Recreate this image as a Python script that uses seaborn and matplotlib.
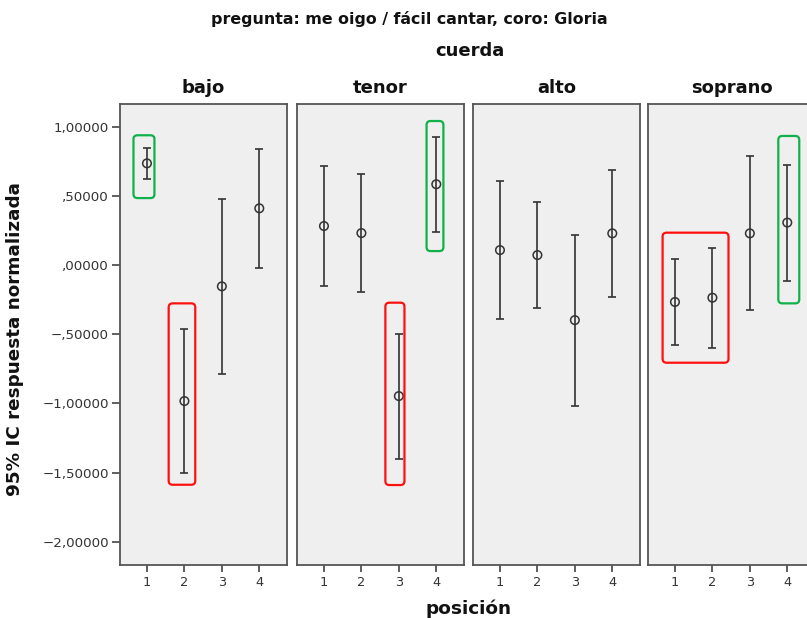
import matplotlib
matplotlib.use("Agg")
import matplotlib.pyplot as plt
import numpy as np
import pandas as pd
import seaborn as sns
from matplotlib.patches import FancyBboxPatch
from matplotlib.ticker import FuncFormatter, FixedLocator

# ---------------- data ----------------
cuerdas = ["bajo", "tenor", "alto", "soprano"]
posiciones = [1, 2, 3, 4]

media_bajo = [0.735, -0.983, -0.154, 0.410]
inf_bajo = [0.620, -1.506, -0.785, -0.019]
sup_bajo = [0.849, -0.460, 0.480, 0.837]

media_tenor = [0.282, 0.231, -0.947, 0.584]
inf_tenor = [-0.152, -0.195, -1.400, 0.241]
sup_tenor = [0.716, 0.661, -0.496, 0.926]

media_alto = [0.108, 0.072, -0.398, 0.229]
inf_alto = [-0.388, -0.313, -1.020, -0.231]
sup_alto = [0.610, 0.453, 0.217, 0.690]

media_soprano = [-0.267, -0.236, 0.229, 0.307]
inf_soprano = [-0.581, -0.600, -0.328, -0.113]
sup_soprano = [0.041, 0.126, 0.786, 0.726]

y_ticks = [-2.0, -1.5, -1.0, -0.5, 0.0, 0.5, 1.0]

# highlight annotations: (cuerda, x0, x1, y0, y1, color)
resaltados = [
    ("bajo", 0.64, 1.20, 0.484, 0.938, "#12b04a"),
    ("bajo", 1.58, 2.29, -1.588, -0.277, "#ff1010"),
    ("tenor", 3.74, 4.19, 0.101, 1.041, "#12b04a"),
    ("tenor", 2.64, 3.15, -1.590, -0.272, "#ff1010"),
    ("soprano", 0.67, 2.43, -0.706, 0.234, "#ff1010"),
    ("soprano", 3.76, 4.32, -0.277, 0.933, "#12b04a"),
]

series = {
    "bajo": (media_bajo, inf_bajo, sup_bajo),
    "tenor": (media_tenor, inf_tenor, sup_tenor),
    "alto": (media_alto, inf_alto, sup_alto),
    "soprano": (media_soprano, inf_soprano, sup_soprano),
}
rows = []
for c in cuerdas:
    m, lo, hi = series[c]
    for p, a, b, d in zip(posiciones, m, lo, hi):
        rows.append({"cuerda": c, "posición": p, "media": a, "inf": b, "sup": d})
df = pd.DataFrame(rows)

# ---------------- style ----------------
sns.set_style("white")
plt.rcParams["font.family"] = ["DejaVu Sans"]

W, H = 807, 618
fig = plt.figure(figsize=(W / 100, H / 100), dpi=100)

panel_left = [120, 297, 473, 648]
panel_w = 167
top_px, bot_px = 104, 565

def fx(x):
    return x / W

def fy(y):
    return 1 - y / H

def fmt(v, pos=None):
    s = f"{abs(v):.5f}".replace(".", ",")
    if s.startswith("0,"):
        s = s[1:]
    if v < 0:
        s = "\u2212" + s
    return s

line_col = "#333333"
for i, c in enumerate(cuerdas):
    ax = fig.add_axes([fx(panel_left[i]), fy(bot_px), panel_w / W, (bot_px - top_px) / H])
    ax.set_facecolor("#efefef")
    sub = df[df["cuerda"] == c]
    ax.errorbar(sub["posición"], sub["media"],
                yerr=[sub["media"] - sub["inf"], sub["sup"] - sub["media"]],
                fmt="none", ecolor=line_col, elinewidth=1.2, capsize=3.2, capthick=1.2, zorder=2)
    sns.scatterplot(data=sub, x="posición", y="media", ax=ax, marker="o", s=38,
                    facecolors="none", edgecolor=line_col, linewidth=1.1, zorder=3)
    ax.set_xlim(0.28, 4.74)
    ax.set_ylim(-2.168, 1.164)
    ax.xaxis.set_major_locator(FixedLocator(posiciones))
    ax.set_xticklabels([str(p) for p in posiciones])
    ax.set_xlabel("")
    ax.set_ylabel("")
    for sp in ax.spines.values():
        sp.set_visible(True)
        sp.set_color("#555555")
        sp.set_linewidth(1.3)
    ax.tick_params(axis="x", direction="out", length=5, width=1.2, color="#444444",
                   labelsize=9.3, labelcolor="#333333", pad=3, bottom=True)
    if i == 0:
        ax.yaxis.set_major_locator(FixedLocator(y_ticks))
        ax.yaxis.set_major_formatter(FuncFormatter(fmt))
        ax.tick_params(axis="y", direction="out", length=6, width=1.2, color="#444444",
                       labelsize=9.6, labelcolor="#333333", pad=2, left=True)
    else:
        ax.set_yticks([])
    # highlight boxes
    xs = 37.5
    ys = 138.3
    r = 4.0 / xs
    for (cc, x0, x1, y0, y1, col) in resaltados:
        if cc != c:
            continue
        box = FancyBboxPatch((x0, y0), x1 - x0, y1 - y0,
                             boxstyle=f"round,pad=0,rounding_size={r}",
                             mutation_aspect=xs / ys, fill=False,
                             edgecolor=col, linewidth=1.6, zorder=4)
        ax.add_patch(box)
    fig.text(fx(panel_left[i] + panel_w / 2), fy(88), c, ha="center", va="center",
             fontsize=13, fontweight="bold", color="#111111")

fig.text(fx(409), fy(19), "pregunta: me oigo / fácil cantar, coro: Gloria",
         ha="center", va="center", fontsize=11.4, fontweight="bold", color="#111111")
fig.text(fx(470), fy(51), "cuerda", ha="center", va="center",
         fontsize=13, fontweight="bold", color="#111111")
fig.text(fx(15), fy(339), "95% IC respuesta normalizada", ha="center", va="center",
         rotation=90, fontsize=13.2, fontweight="bold", color="#111111")
fig.text(fx(469), fy(617.5), "posición", ha="center", va="bottom",
         fontsize=13.3, fontweight="bold", color="#111111")

fig.savefig("out.png", dpi=100)
